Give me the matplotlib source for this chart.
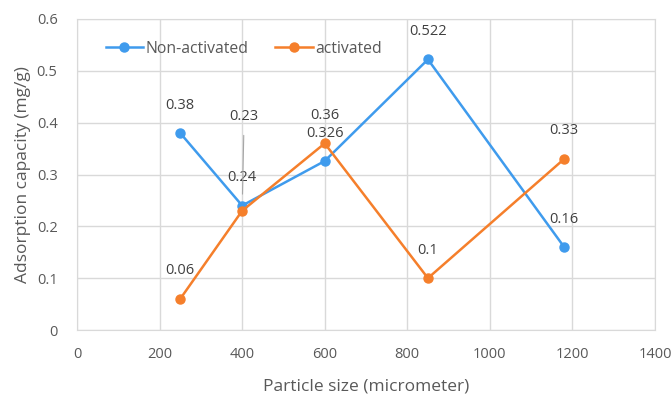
import matplotlib
matplotlib.use("Agg")
import matplotlib.pyplot as plt

x_vals = [250, 400, 600, 850, 1180]
non_activated = [0.38, 0.24, 0.326, 0.522, 0.16]
activated = [0.06, 0.23, 0.36, 0.1, 0.33]
na_labels = ["0.38", "0.24", "0.326", "0.522", "0.16"]
a_labels = ["0.06", "0.23", "0.36", "0.1", "0.33"]
x_ticks = [0, 200, 400, 600, 800, 1000, 1200, 1400]
y_ticks = [0, 0.1, 0.2, 0.3, 0.4, 0.5, 0.6]

plt.rcParams['font.family'] = ['Open Sans', 'DejaVu Sans']
txt = '#595959'
blue = '#3f9bed'
orange = '#f57f2b'

fig = plt.figure(figsize=(6.72, 4.03), dpi=100)
ax = fig.add_axes([77/672, 1 - 330/403, 578/672, 311/403])

ax.plot(x_vals, non_activated, color=blue, lw=1.8, marker='o', ms=6.5, label='Non-activated', zorder=3)
ax.plot(x_vals, activated, color=orange, lw=1.8, marker='o', ms=6.5, label='activated', zorder=3)

ax.set_xlim(0, 1400)
ax.set_ylim(0, 0.6)
ax.set_xticks(x_ticks)
ax.set_xticklabels([str(t) for t in x_ticks])
ax.set_yticks(y_ticks)
ax.set_yticklabels(['0' if t == 0 else f'{t:g}' for t in y_ticks])
ax.grid(True, color='#d9d9d9', lw=1)
ax.set_axisbelow(True)
for s in ax.spines.values():
    s.set_color('#d9d9d9')
ax.tick_params(length=0, colors=txt, labelsize=10.5)
ax.tick_params(axis='x', pad=12)
ax.tick_params(axis='y', pad=14)

for xv, yv, lab in zip(x_vals, non_activated, na_labels):
    ax.annotate(lab, (xv, yv), xytext=(0, 28), textcoords='offset pixels',
                ha='center', va='center', fontsize=10.5, color='#404040')
for i, (xv, yv, lab) in enumerate(zip(x_vals, activated, a_labels)):
    if i == 1:
        ax.annotate(lab, (xv, yv), xytext=(2, 94), textcoords='offset pixels',
                    ha='center', va='center', fontsize=10.5, color='#404040',
                    arrowprops=dict(arrowstyle='-', color='#a6a6a6', lw=0.8,
                                    shrinkA=6, shrinkB=12))
    else:
        ax.annotate(lab, (xv, yv), xytext=(0, 28), textcoords='offset pixels',
                    ha='center', va='center', fontsize=10.5, color='#404040')

ax.set_xlabel('Particle size (micrometer)', color=txt, fontsize=12.5, labelpad=12)
ax.set_ylabel('Adsorption capacity (mg/g)', color=txt, fontsize=12.5, labelpad=4)

leg = ax.legend(loc='upper left', bbox_to_anchor=(0.025, 0.975), ncol=2, frameon=False,
                fontsize=11.3, handlelength=2.4, columnspacing=1.7, handletextpad=0.15)
for t in leg.get_texts():
    t.set_color(txt)

fig.savefig('out.png', dpi=100)
